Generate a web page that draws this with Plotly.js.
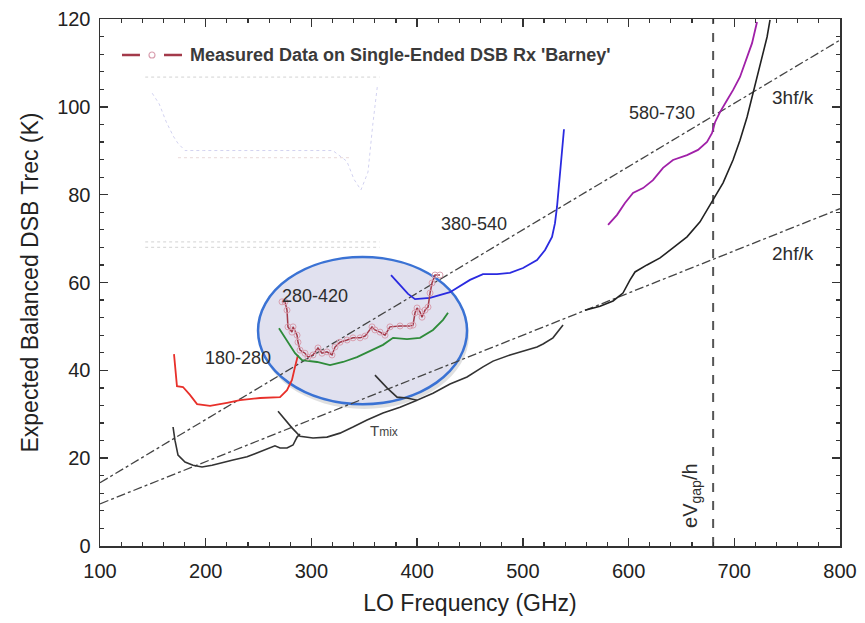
<!DOCTYPE html>
<html><head><meta charset="utf-8">
<script src="https://cdn.plot.ly/plotly-3.0.1.min.js"></script>
<style>html,body{margin:0;padding:0;background:#fff}#chart{width:865px;height:623px}</style>
</head><body><div id="chart"></div>
<script>
// ---- data ----
const redX = [170.0,171.9,172.8,178.5,185.1,191.8,204.1,220.1,232.4,251.4,270.3,276.9,281.6,284.5,287.3];
const redY = [43.7,39.6,36.4,36.2,34.4,32.3,31.9,32.6,33.2,33.7,33.9,35.5,37.8,40.8,43.5];

const greenX = [269.3,276.9,284.5,291.1,305.3,317.6,329.9,343.1,355.4,367.7,377.2,390.4,402.7,415.0,424.5,429.2];
const greenY = [49.6,46.9,43.9,42.3,41.9,41.2,41.9,43.0,44.4,45.8,47.4,47.1,47.4,49.2,51.5,53.1];

const blueX = [375.3,383.8,391.4,398.0,412.2,431.1,450.0,462.3,475.6,487.9,500.2,513.4,521.0,527.6,530.4,532.3,534.2,536.1,538.9];
const blueY = [61.7,59.4,57.4,56.2,56.5,57.8,60.6,61.9,61.9,62.2,63.3,65.1,67.4,70.4,73.5,77.2,82.2,87.9,94.9];

const purpleX = [580.6,589.1,596.6,604.2,613.7,623.1,632.6,642.0,655.3,665.7,674.2,678.9,681.8,686.5,693.1,698.8,705.4,710.2,716.8,721.5];
const purpleY = [73.1,75.4,78.1,80.4,81.5,83.3,86.1,87.9,89.0,90.2,92.0,94.0,96.5,98.8,101.5,103.8,106.8,110.0,114.5,119.3];

const tmixAX = [169.1,170.9,173.8,180.4,188.0,196.5,206.0,213.5,225.8,239.1,248.5,260.8,265.5,270.3,276.9,282.6,286.4,289.2];
const tmixAY = [27.1,24.1,20.7,19.1,18.4,18.0,18.4,18.9,19.6,20.3,21.2,22.5,22.8,22.3,22.3,23.0,24.8,25.5];
const tmixBX = [268.4,275.0,281.6,289.2,301.5,314.7,327.0,339.3,352.6,367.7,383.8,399.9];
const tmixBY = [30.7,28.7,26.9,25.0,24.6,24.8,25.7,27.1,28.7,30.3,31.6,33.2];
const tmixCX = [360.1,371.5,381.0,390.4,399.9,415.0,431.1,447.2,462.3,471.8,487.9,503.9,513.4,519.1,528.5,538.0];
const tmixCY = [38.9,36.0,33.9,33.7,33.2,34.8,36.9,38.5,40.8,42.1,43.5,44.6,45.3,46.0,47.4,50.3];
const tmixDX = [558.8,573.0,585.3,594.7,601.4,606.1,617.4,629.8,642.0,655.3,667.6,677.1,689.4,698.8,705.4,712.1,717.7,724.3,731.0,733.8];
const tmixDY = [53.7,54.6,55.8,57.6,60.6,62.4,64.0,65.6,67.9,70.4,73.8,77.6,82.7,87.9,92.4,97.7,103.1,110.0,115.9,119.8];

const measX = [272.2,275.0,276.9,277.8,281.6,282.6,286.4,287.3,289.2,293.9,296.8,301.5,306.2,310.0,314.7,319.5,322.3,327.0,333.7,339.3,346.0,350.7,357.3,360.1,364.9,369.6,374.3,383.8,393.3,396.1,398.0,399.9,402.7,404.6,407.4,410.3,412.2,414.1,416.9,421.6];
const measY = [55.6,55.6,53.7,49.9,48.7,49.9,48.0,46.4,44.6,43.9,43.0,43.5,45.1,43.9,44.2,43.5,45.3,46.4,46.9,47.4,47.4,47.8,49.9,49.2,48.7,48.0,49.9,50.1,50.1,50.3,53.1,54.2,53.3,52.1,53.7,54.4,57.6,59.9,61.7,61.7];

// reference lines: n*h*f/k
const hfX = [100, 800];
const hf3Y = [14.4, 115.2];
const hf2Y = [9.6, 76.8];
const gapX = [680, 680];
const gapY = [0, 120];

// faint inset (scanned sub-figure)
const insetX = [3,6,9,12,14,17,25,40,60,80,86,89,92,95,97,99];
const insetY = [88,82,72,64,60,56,56,56,56,56,50,40,34,44,70,92];
const insetX2 = [14,30,50,70,88];
const insetY2 = [52,52,52,52,52];
const insetRowX = [0,100];
const insetRowsY = [2,5,97];

const xTicks = [100,200,300,400,500,600,700,800];
const yTicks = [0,20,40,60,80,100,120];
const legendText = "Measured Data on Single-Ended DSB Rx 'Barney'";

// ---- figure ----
const FONT = "Liberation Sans, Arial, sans-serif";
const dashc = '#444';
function ln(x,y,color,w,extra){return Object.assign({x:x,y:y,mode:'lines',line:{color:color,width:w},showlegend:false,hoverinfo:'skip'},extra||{});}

const traces = [
  ln(hfX,hf3Y,dashc,1.3,{line:{color:dashc,width:1.3,dash:'dashdot'}}),
  ln(hfX,hf2Y,dashc,1.3,{line:{color:dashc,width:1.3,dash:'dashdot'}}),
  ln(gapX,gapY,'#555',2,{line:{color:'#555',width:2,dash:'dash'}}),
  ln(tmixAX,tmixAY,'#333',1.6),
  ln(tmixBX,tmixBY,'#333',1.6),
  ln(tmixCX,tmixCY,'#333',1.6),
  ln(tmixDX,tmixDY,'#222',1.6),
  ln(redX,redY,'#e8302a',1.8),
  ln(greenX,greenY,'#2e8b3a',1.8),
  ln(blueX,blueY,'#2a2ae0',1.8),
  ln(purpleX,purpleY,'#a020a8',1.8),
  {x:measX,y:measY,mode:'lines+markers',name:legendText,
   line:{color:'#a33a4a',width:1.5},marker:{symbol:'circle-open',size:6,color:'#d9a0b0',line:{width:1}},
   showlegend:false,hoverinfo:'skip'},
  ln(insetX,insetY,'#d0d0f0',1,{xaxis:'x2',yaxis:'y2',line:{color:'#d2d2f0',width:1,dash:'dot'}}),
  ln(insetX2,insetY2,'#e6d6d6',1,{xaxis:'x2',yaxis:'y2',line:{color:'#e8d8d8',width:1,dash:'dot'}})
];
insetRowsY.forEach(v=>traces.push(ln(insetRowX,[v,v],'#cfcfcf',1,{xaxis:'x2',yaxis:'y2',line:{color:'#d2d2d2',width:1,dash:'dot'}})));

const ann = (x,y,text,size,extra) => Object.assign({x:x,y:y,xref:'x',yref:'y',text:text,showarrow:false,
  font:{family:FONT,size:size,color:'#2d2d2d'}},extra||{});

// legend drawn by hand in paper coordinates
const LY = 0.9317;
const layout = {
  width:865,height:623,
  margin:{l:100,r:25,t:19,b:77},
  paper_bgcolor:'#fff',plot_bgcolor:'#fff',
  font:{family:FONT,color:'#222'},
  showlegend:false,
  xaxis:{range:[100,800],tickvals:xTicks,ticks:'inside',ticklen:8,tickwidth:1.5,tickcolor:'#333',
         showline:true,linecolor:'#333',linewidth:1.5,mirror:'allticks',showgrid:false,zeroline:false,
         minor:{dtick:20,ticks:'inside',ticklen:4,tickwidth:1.2,tickcolor:'#333',showgrid:false},
         tickfont:{size:20,family:FONT,color:'#222'},ticklabelstandoff:6,
         title:{text:'LO Frequency (GHz)',font:{size:23,family:FONT,color:'#222'},standoff:14}},
  yaxis:{range:[0,120],tickvals:yTicks,ticks:'inside',ticklen:8,tickwidth:1.5,tickcolor:'#333',
         showline:true,linecolor:'#333',linewidth:1.5,mirror:'allticks',showgrid:false,zeroline:false,
         minor:{dtick:4,ticks:'inside',ticklen:4,tickwidth:1.2,tickcolor:'#333',showgrid:false},
         tickfont:{size:20,family:FONT,color:'#222'},ticklabelstandoff:4,
         title:{text:'Expected Balanced DSB Trec (K)',font:{size:23,family:FONT,color:'#222'},standoff:12}},
  xaxis2:{domain:[0.061,0.378],range:[0,100],visible:false,anchor:'y2'},
  yaxis2:{domain:[0.56,0.90],range:[0,100],visible:false,anchor:'x2'},
  shapes:[
    {type:'circle',xref:'x',yref:'y',x0:251,x1:449,y0:31.2,y1:64.7,fillcolor:'rgba(0,0,0,0.12)',line:{width:0},layer:'below'},
    {type:'circle',xref:'x',yref:'y',x0:249.5,x1:447.2,y0:32.3,y1:65.8,fillcolor:'#e1e1ef',line:{color:'#3a72d4',width:2.5},layer:'below'},
    {type:'line',xref:'paper',yref:'paper',x0:0.0297,x1:0.0540,y0:LY,y1:LY,line:{color:'#a33a4a',width:2.5}},
    {type:'line',xref:'paper',yref:'paper',x0:0.0865,x1:0.1108,y0:LY,y1:LY,line:{color:'#a33a4a',width:2.5}},
    {type:'circle',xref:'paper',yref:'paper',x0:0.0662,x1:0.0743,y0:LY-0.0057,y1:LY+0.0057,line:{color:'#d9a0b0',width:1.2}}
  ],
  annotations:[
    {x:0.1189,y:LY,xref:'paper',yref:'paper',xanchor:'left',yanchor:'middle',showarrow:false,
     text:'<b>'+legendText+'</b>',font:{family:FONT,size:18,color:'#3a3a3a'}},
    ann(755.6,102.2,'3hf/k',19),
    ann(755.6,66.7,'2hf/k',19),
    ann(631.6,98.6,'580-730',18),
    ann(453.8,73.3,'380-540',18),
    ann(303.4,56.9,'280-420',18),
    ann(230.5,42.8,'180-280',18),
    ann(368.7,26.2,'T<span style="font-size:12px">mix</span>',15,{font:{family:FONT,size:15,color:'#444'}}),
    ann(660,11.4,'eV<sub>gap</sub>/h',20,{textangle:-90})
  ]
};

Plotly.newPlot('chart',traces,layout,{displayModeBar:false,staticPlot:true});
</script></body></html>
